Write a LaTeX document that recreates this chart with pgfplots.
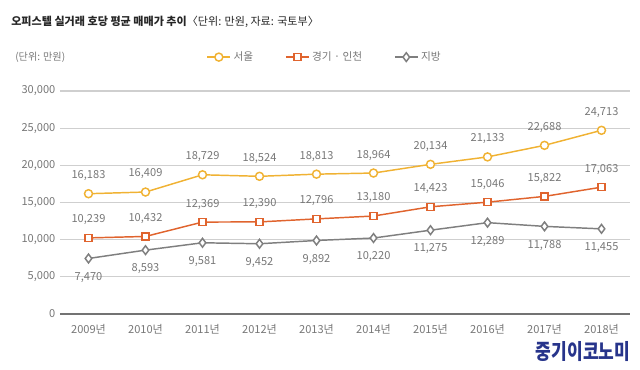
\documentclass[border=0pt]{standalone}
\usepackage{fontspec}
\setmainfont{Noto Sans CJK KR}
\usepackage{pgfplots}
\pgfplotsset{compat=1.18}
\definecolor{seoul}{HTML}{F0B233}
\definecolor{gg}{HTML}{E0642E}
\definecolor{local}{HTML}{7F7F7F}
\definecolor{txt}{HTML}{777777}
\definecolor{gridc}{HTML}{CFCFCF}
\definecolor{wm}{HTML}{27348B}
\begin{document}
\begin{tikzpicture}
\path[use as bounding box] (0pt,0pt) rectangle (480pt,276.75pt);
\node[anchor=west, text=black!85, font=\bfseries\fontsize{8.3}{10}\selectfont, inner sep=0] at (8.25pt,260.25pt) {오피스텔 실거래 호당 평균 매매가 추이{\mdseries 〈단위: 만원, 자료: 국토부〉}};
\node[anchor=west, text=txt, font=\fontsize{7.6}{9}\selectfont, inner sep=0] at (11.25pt,234pt) {(단위: 만원)};
\begin{axis}[
  at={(66.375pt,41.25pt)}, anchor=origin,
  scale only axis, width=427.5pt, height=167.25pt,
  xmin=-0.5, xmax=9.5, ymin=0, ymax=30000,
  xtick={0,...,9},
  xticklabels={2009년,2010년,2011년,2012년,2013년,2014년,2015년,2016년,2017년,2018년},
  xticklabel style={yshift=-4.5pt},
  ytick={5000,10000,15000,20000,25000,30000},
  extra y ticks={0}, extra y tick labels={0},
  extra y tick style={grid style={draw=black!55, line width=0.9pt}},
  ymajorgrids, grid style={draw=gridc, line width=0.9pt},
  axis line style={draw=none}, major tick length=0,
  tick label style={font=\fontsize{8.3}{10}\selectfont, text=txt},
  /pgf/number format/assume math mode=true,
  /pgf/number format/1000 sep={,},
  scaled y ticks=false,
  clip=false,
  nodes near coords,
  every node near coord/.style={font=\fontsize{8.3}{10}\selectfont, text=txt, anchor=center},
  legend columns=3,
  legend style={at={(0.465,1.152)}, anchor=center, draw=none, fill=none,
    font=\fontsize{8}{10}\selectfont, text=txt,
    /tikz/every even column/.append style={column sep=22pt}},
]
\addplot[color=seoul, line width=1.1pt, mark=*, mark size=3pt, mark options={fill=white, line width=1.1pt},
  every node near coord/.append style={yshift=13.5pt}]
  coordinates {(0,16183) (1,16409) (2,18729) (3,18524) (4,18813) (5,18964) (6,20134) (7,21133) (8,22688) (9,24713)};
\addlegendentry{서울}
\addplot[color=gg, line width=1.1pt, mark=square*, mark size=2.6pt, mark options={fill=white, line width=1.1pt},
  every node near coord/.append style={yshift=13.5pt}]
  coordinates {(0,10239) (1,10432) (2,12369) (3,12390) (4,12796) (5,13180) (6,14423) (7,15046) (8,15822) (9,17063)};
\addlegendentry{경기 · 인천}
\addplot[color=local, line width=1.1pt, mark=diamond*, mark size=3.3pt, mark options={fill=white, line width=1.1pt},
  every node near coord/.append style={yshift=-14pt}]
  coordinates {(0,7470) (1,8593) (2,9581) (3,9452) (4,9892) (5,10220) (6,11275) (7,12289) (8,11788) (9,11455)};
\addlegendentry{지방}
\end{axis}
\node[text=wm, font=\bfseries\fontsize{16}{18}\selectfont, inner sep=0] at (437.25pt,12.75pt) {\scalebox{0.8}[1]{중기이코노미}};
\end{tikzpicture}
\end{document}
